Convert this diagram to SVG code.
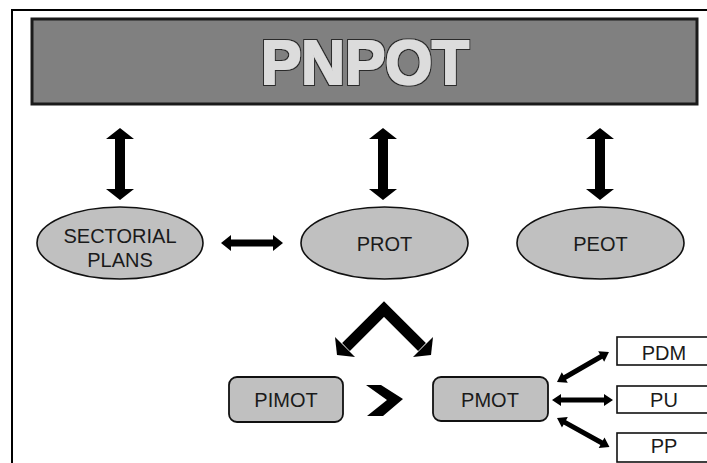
<svg xmlns="http://www.w3.org/2000/svg" xmlns:xlink="http://www.w3.org/1999/xlink" width="707" height="463" viewBox="0 0 707 463">
<style>
.ell{fill:#c0c0c0;stroke:#111;stroke-width:1.6}
.rr{fill:#c0c0c0;stroke:#111;stroke-width:1.8}
.box{fill:#fff;stroke:#111;stroke-width:1.6}
.t{font-family:"Liberation Sans",Arial,sans-serif;font-size:20px;fill:#1a1a1a;text-anchor:middle}
.title{font-family:"Liberation Sans",Arial,sans-serif;font-weight:bold;font-size:63px;fill:#dcdcdc;text-anchor:middle}
.arr{fill:#000}
</style>
<defs>
<filter id="heavy" x="-10%" y="-20%" width="120%" height="140%">
<feMorphology in="SourceAlpha" operator="dilate" radius="2.3" result="o"/>
<feFlood flood-color="#2a2a2a"/>
<feComposite in2="o" operator="in" result="dark"/>
<feMorphology in="SourceGraphic" operator="dilate" radius="0.8" result="light"/>
<feMerge><feMergeNode in="dark"/><feMergeNode in="light"/></feMerge>
</filter>
<path id="sa" d="M0,0 L9,-6 L9,-2.5 L51,-2.5 L51,-6 L60,0 L51,6 L51,2.5 L9,2.5 L9,6 Z"/>
<path id="va" d="M0,0 L14,11 L5,11 L5,61 L14,61 L0,72 L-14,61 L-5,61 L-5,11 L-14,11 Z"/>
</defs>
<rect x="0" y="0" width="707" height="463" fill="#fff"/>
<path d="M12,463 L12,10 L707,10" fill="none" stroke="#000" stroke-width="2"/>
<g id="pnpot">
<rect x="32" y="19" width="665" height="85" fill="#808080" stroke="#1a1a1a" stroke-width="3"/>
<text class="title" x="365" y="84" textLength="208" lengthAdjust="spacingAndGlyphs" filter="url(#heavy)">PNPOT</text>
</g>
<g id="sectorial">
<ellipse class="ell" cx="120" cy="243" rx="83" ry="36"/>
<text class="t" x="120" y="243">SECTORIAL</text>
<text class="t" x="120" y="267">PLANS</text>
</g>
<g id="prot">
<ellipse class="ell" cx="384.5" cy="243" rx="83.5" ry="36"/>
<text class="t" x="384.5" y="251">PROT</text>
</g>
<g id="peot">
<ellipse class="ell" cx="600.5" cy="243" rx="83.5" ry="36"/>
<text class="t" x="600.5" y="251">PEOT</text>
</g>
<g id="pimot">
<rect class="rr" x="229" y="377" width="114" height="45" rx="8"/>
<text class="t" x="286" y="407">PIMOT</text>
</g>
<g id="pmot">
<rect class="rr" x="433" y="377" width="115" height="44" rx="8"/>
<text class="t" x="490" y="407">PMOT</text>
</g>
<g id="pdm">
<rect class="box" x="617" y="337" width="92" height="28"/>
<text class="t" x="664" y="360">PDM</text>
</g>
<g id="pu">
<rect class="box" x="617" y="386" width="92" height="27"/>
<text class="t" x="664" y="407">PU</text>
</g>
<g id="pp">
<rect class="box" x="617" y="433" width="92" height="29"/>
<text class="t" x="664" y="453">PP</text>
</g>
<g id="connectors" class="arr">
<use href="#va" xlink:href="#va" x="120" y="128"/>
<use href="#va" xlink:href="#va" x="383" y="128"/>
<use href="#va" xlink:href="#va" x="600" y="128"/>
<polygon points="221,243 231,235 231,239.5 273,239.5 273,235 283,243 273,251 273,246.5 231,246.5 231,251"/>
<path d="M346,347 L384,309 L422,347" fill="none" stroke="#000" stroke-width="11" stroke-linejoin="miter"/>
<polygon points="337,355 335,337 355,357"/>
<polygon points="431,355 433,337 413,357"/>
<polygon points="366,385 381,385 403,399 383,416 367,416 387,400"/>
<polygon points="552,400 561,394 561,397.5 604,397.5 604,394 613,400 604,406 604,402.5 561,402.5 561,406"/>
<use href="#sa" xlink:href="#sa" transform="translate(557,382) rotate(-30)"/>
<use href="#sa" xlink:href="#sa" transform="translate(557,418) rotate(29)"/>
</g>
</svg>
